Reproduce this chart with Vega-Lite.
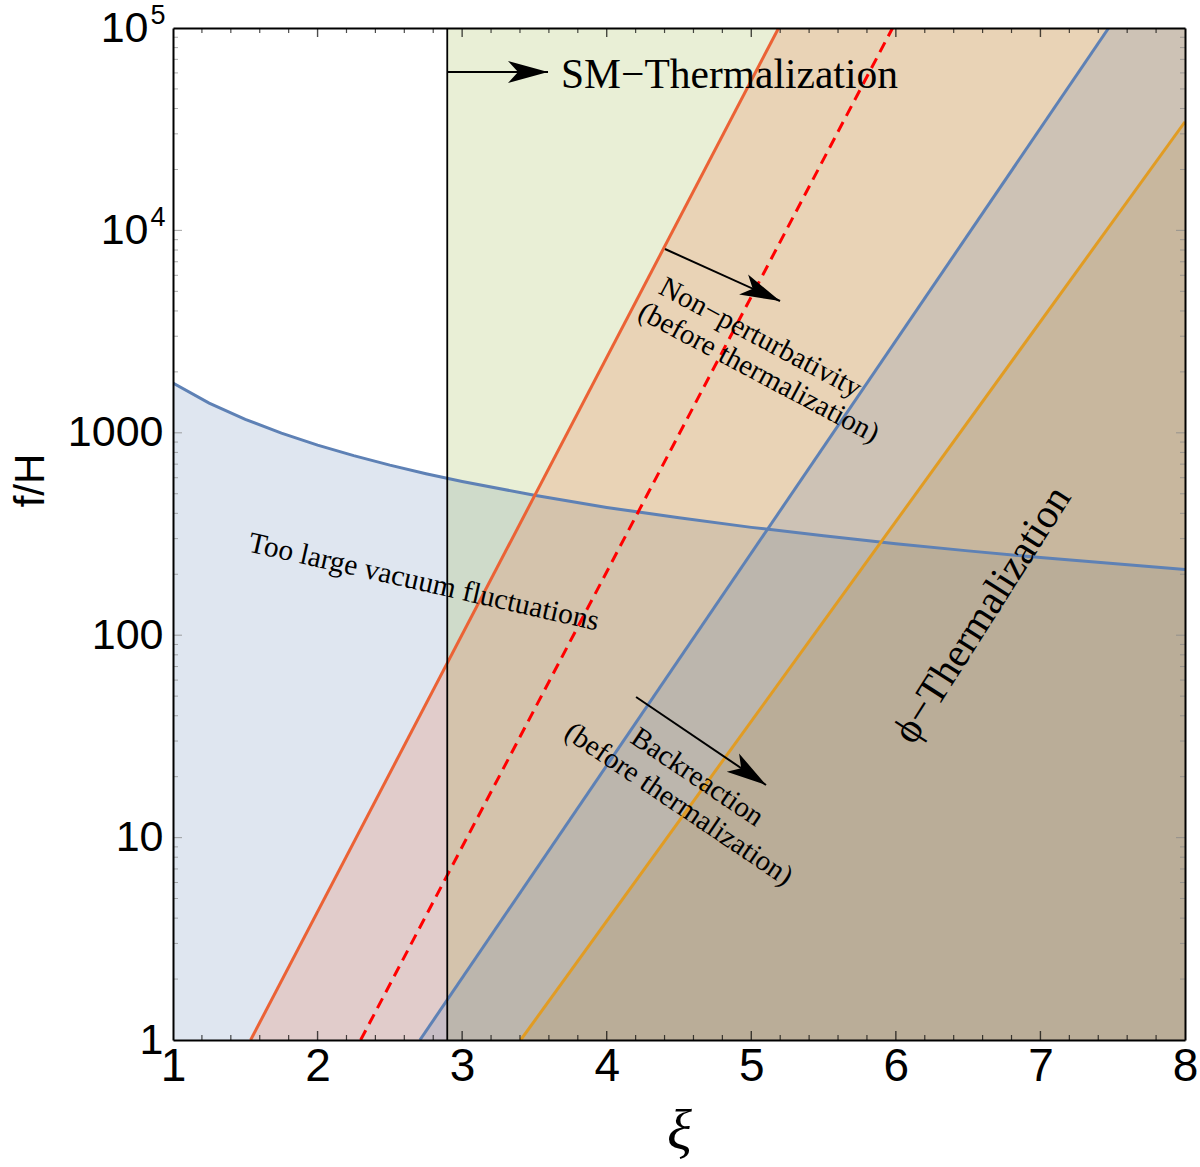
{
  "$schema": "https://vega.github.io/schema/vega-lite/v6.json",
  "width": 1012,
  "height": 1012,
  "autosize": {"type": "none"},
  "padding": {"left": 173, "top": 28, "right": 15, "bottom": 127},
  "background": "white",
  "config": {"view": {"stroke": null}},
  "datasets": {
    "curve": [
      {"xi": 1, "f": 1762}, {"xi": 1.25, "f": 1403}, {"xi": 1.5, "f": 1165}, {"xi": 1.75, "f": 996},
      {"xi": 2, "f": 869}, {"xi": 2.25, "f": 771}, {"xi": 2.5, "f": 692}, {"xi": 2.75, "f": 628},
      {"xi": 3, "f": 575}, {"xi": 3.5, "f": 491}, {"xi": 4, "f": 428}, {"xi": 4.5, "f": 380},
      {"xi": 5, "f": 341}, {"xi": 5.5, "f": 310}, {"xi": 6, "f": 283}, {"xi": 6.5, "f": 261},
      {"xi": 7, "f": 242}, {"xi": 7.5, "f": 226}, {"xi": 8, "f": 211}
    ],
    "lines": [
      {"id": "npert", "xi": 1.537, "f": 1}, {"id": "npert", "xi": 5.189, "f": 100000},
      {"id": "npert_area", "xi": 1.537, "f": 1}, {"id": "npert_area", "xi": 5.189, "f": 100000}, {"id": "npert_area", "xi": 8, "f": 100000},
      {"id": "dash", "xi": 2.298, "f": 1}, {"id": "dash", "xi": 5.977, "f": 100000},
      {"id": "back", "xi": 2.708, "f": 1}, {"id": "back", "xi": 7.472, "f": 100000},
      {"id": "back_area", "xi": 2.708, "f": 1}, {"id": "back_area", "xi": 7.472, "f": 100000}, {"id": "back_area", "xi": 8, "f": 100000},
      {"id": "orng", "xi": 3.405, "f": 1}, {"id": "orng", "xi": 8, "f": 34400},
      {"id": "sm", "xi": 2.897, "f": 1}, {"id": "sm", "xi": 2.897, "f": 100000}
    ],
    "boxes": [{"xi": 2.897, "xi2": 8, "f": 1, "f2": 100000}],
    "arrows": [
      {"id": "sm", "xi": 2.897, "f": 60620, "xi2": 3.594, "f2": 60620},
      {"id": "np", "xi": 4.403, "f": 8091, "xi2": 5.199, "f2": 4480},
      {"id": "br", "xi": 4.203, "f": 49.5, "xi2": 5.102, "f2": 18.2}
    ],
    "labels": [
      {"id": "sm", "text": "SM−Thermalization", "xi": 3.684, "f": 50540},
      {"id": "np1", "text": "Non−perturbativity", "xi": 5.064, "f": 2957},
      {"id": "np2", "text": "(before thermalization)", "xi": 5.053, "f": 1986},
      {"id": "br1", "text": "Backreaction", "xi": 4.628, "f": 19.93},
      {"id": "br2", "text": "(before thermalization)", "xi": 4.5, "f": 14.66},
      {"id": "vac", "text": "Too large vacuum fluctuations", "xi": 2.735, "f": 183},
      {"id": "phi", "text": "ϕ−Thermalization", "xi": 6.6, "f": 125.8}
    ],
    "xmaj": [{"xi": 2}, {"xi": 3}, {"xi": 4}, {"xi": 5}, {"xi": 6}, {"xi": 7}],
    "xmin": [
      {"xi": 1.2}, {"xi": 1.4}, {"xi": 1.6}, {"xi": 1.8}, {"xi": 2.2}, {"xi": 2.4}, {"xi": 2.6}, {"xi": 2.8},
      {"xi": 3.2}, {"xi": 3.4}, {"xi": 3.6}, {"xi": 3.8}, {"xi": 4.2}, {"xi": 4.4}, {"xi": 4.6}, {"xi": 4.8},
      {"xi": 5.2}, {"xi": 5.4}, {"xi": 5.6}, {"xi": 5.8}, {"xi": 6.2}, {"xi": 6.4}, {"xi": 6.6}, {"xi": 6.8},
      {"xi": 7.2}, {"xi": 7.4}, {"xi": 7.6}, {"xi": 7.8}
    ],
    "ymaj": [{"f": 10}, {"f": 100}, {"f": 1000}, {"f": 10000}],
    "ymin": [
      {"f": 2}, {"f": 3}, {"f": 4}, {"f": 5}, {"f": 6}, {"f": 7}, {"f": 8}, {"f": 9},
      {"f": 20}, {"f": 30}, {"f": 40}, {"f": 50}, {"f": 60}, {"f": 70}, {"f": 80}, {"f": 90},
      {"f": 200}, {"f": 300}, {"f": 400}, {"f": 500}, {"f": 600}, {"f": 700}, {"f": 800}, {"f": 900},
      {"f": 2000}, {"f": 3000}, {"f": 4000}, {"f": 5000}, {"f": 6000}, {"f": 7000}, {"f": 8000}, {"f": 9000},
      {"f": 20000}, {"f": 30000}, {"f": 40000}, {"f": 50000}, {"f": 60000}, {"f": 70000}, {"f": 80000}, {"f": 90000}
    ]
  },
  "resolve": {"axis": {"x": "independent", "y": "independent"}},
  "layer": [
    {
      "data": {"name": "curve"},
      "mark": {"type": "area", "color": "#5E81B5", "fillOpacity": 0.2, "clip": true},
      "encoding": {
        "x": {
          "field": "xi", "type": "quantitative",
          "scale": {"domain": [1, 8], "nice": false, "zero": false},
          "axis": {
            "orient": "bottom", "values": [1, 2, 3, 4, 5, 6, 7, 8], "format": "d",
            "labelFont": "Liberation Sans", "labelFontSize": 46, "labelColor": "black",
            "labelFlush": false, "labelPadding": 4, "labelOverlap": false,
            "ticks": false, "domainColor": "black", "domainWidth": 2,
            "grid": false, "zindex": 2,
            "title": "ξ", "titleFont": "Liberation Serif", "titleFontStyle": "italic", "titleFontWeight": "normal",
            "titleFontSize": 58, "titleColor": "black", "titleBaseline": "alphabetic", "titleY": 108
          }
        },
        "y": {
          "field": "f", "type": "quantitative",
          "scale": {"type": "log", "domain": [1, 100000], "nice": false},
          "axis": {
            "orient": "left", "values": [1, 10, 100, 1000], "format": "d",
            "labelFont": "Liberation Sans", "labelFontSize": 43, "labelColor": "black",
            "labelFlush": false, "labelPadding": 10, "labelOverlap": false,
            "ticks": false, "domainColor": "black", "domainWidth": 2,
            "grid": false, "zindex": 2,
            "title": "f/H", "titleFont": "Liberation Sans", "titleFontWeight": "normal", "titleFontSize": 42,
            "titleColor": "black", "titleAngle": -90, "titleAlign": "center", "titleBaseline": "middle",
            "titleX": -143, "titleY": 452
          }
        },
        "y2": {"datum": 1}
      }
    },
    {
      "data": {"name": "boxes"},
      "mark": {"type": "rect", "color": "#8FB032", "fillOpacity": 0.2, "clip": true},
      "encoding": {
        "x": {
          "field": "xi", "type": "quantitative",
          "axis": {"orient": "top", "labels": false, "ticks": false, "title": null, "values": [1, 8],
                   "domainColor": "black", "domainWidth": 2, "grid": false, "zindex": 2}
        },
        "x2": {"field": "xi2"},
        "y": {
          "field": "f", "type": "quantitative",
          "axis": {"orient": "right", "labels": false, "ticks": false, "title": null, "values": [1, 100000],
                   "domainColor": "black", "domainWidth": 2, "grid": false, "zindex": 2}
        },
        "y2": {"field": "f2"}
      }
    },
    {
      "data": {"name": "lines"},
      "transform": [{"filter": "datum.id == 'npert_area'"}],
      "mark": {"type": "area", "color": "#EB6235", "fillOpacity": 0.2, "clip": true},
      "encoding": {
        "x": {"field": "xi", "type": "quantitative", "axis": null},
        "y": {
          "field": "f", "type": "quantitative",
          "axis": {"orient": "left", "values": [10000, 100000], "labelExpr": "'10'",
                   "labelFont": "Liberation Sans", "labelFontSize": 43, "labelColor": "black",
                   "labelFlush": false, "labelPadding": 25, "labelOverlap": false,
                   "ticks": false, "domain": false, "title": null, "grid": false, "zindex": 2}
        },
        "y2": {"datum": 1}
      }
    },
    {
      "data": {"name": "lines"},
      "transform": [{"filter": "datum.id == 'back_area'"}],
      "mark": {"type": "area", "color": "#5E81B5", "fillOpacity": 0.2, "clip": true},
      "encoding": {
        "x": {"field": "xi", "type": "quantitative", "axis": null},
        "y": {
          "field": "f", "type": "quantitative",
          "axis": {"orient": "left", "values": [10000, 100000],
                   "labelExpr": "datum.value == 100000 ? '5' : '4'",
                   "labelFont": "Liberation Sans", "labelFontSize": 27, "labelColor": "black",
                   "labelAlign": "left", "labelBaseline": "middle",
                   "labelFlush": false, "labelPadding": 23, "labelOffset": -13, "labelOverlap": false,
                   "ticks": false, "domain": false, "title": null, "grid": false, "zindex": 2}
        },
        "y2": {"datum": 1}
      }
    },
    {
      "data": {"name": "lines"},
      "transform": [{"filter": "datum.id == 'orng'"}],
      "mark": {"type": "area", "color": "#B58E48", "fillOpacity": 0.2, "clip": true},
      "encoding": {
        "x": {"field": "xi", "type": "quantitative", "axis": null},
        "y": {"field": "f", "type": "quantitative", "axis": null},
        "y2": {"datum": 1}
      }
    },
    {
      "data": {"name": "curve"},
      "mark": {"type": "line", "color": "#5E81B5", "strokeWidth": 3, "clip": true},
      "encoding": {
        "x": {"field": "xi", "type": "quantitative", "axis": null},
        "y": {"field": "f", "type": "quantitative", "axis": null}
      }
    },
    {
      "data": {"name": "lines"},
      "transform": [{"filter": "datum.id == 'npert'"}],
      "mark": {"type": "line", "color": "#EB6235", "strokeWidth": 3, "clip": true},
      "encoding": {
        "x": {"field": "xi", "type": "quantitative", "axis": null},
        "y": {"field": "f", "type": "quantitative", "axis": null}
      }
    },
    {
      "data": {"name": "lines"},
      "transform": [{"filter": "datum.id == 'dash'"}],
      "mark": {"type": "line", "color": "#FF0000", "strokeWidth": 3, "strokeDash": [11, 7], "clip": true},
      "encoding": {
        "x": {"field": "xi", "type": "quantitative", "axis": null},
        "y": {"field": "f", "type": "quantitative", "axis": null}
      }
    },
    {
      "data": {"name": "lines"},
      "transform": [{"filter": "datum.id == 'back'"}],
      "mark": {"type": "line", "color": "#5E81B5", "strokeWidth": 3, "clip": true},
      "encoding": {
        "x": {"field": "xi", "type": "quantitative", "axis": null},
        "y": {"field": "f", "type": "quantitative", "axis": null}
      }
    },
    {
      "data": {"name": "lines"},
      "transform": [{"filter": "datum.id == 'orng'"}],
      "mark": {"type": "line", "color": "#E19C24", "strokeWidth": 3, "clip": true},
      "encoding": {
        "x": {"field": "xi", "type": "quantitative", "axis": null},
        "y": {"field": "f", "type": "quantitative", "axis": null}
      }
    },
    {
      "data": {"name": "lines"},
      "transform": [{"filter": "datum.id == 'sm'"}],
      "mark": {"type": "line", "color": "black", "strokeWidth": 1.8, "clip": true},
      "encoding": {
        "x": {"field": "xi", "type": "quantitative", "axis": null},
        "y": {"field": "f", "type": "quantitative", "axis": null}
      }
    },
    {
      "data": {"name": "xmaj"},
      "mark": {"type": "tick", "color": "black", "size": 9, "thickness": 1.4, "orient": "vertical", "yOffset": -4.5},
      "encoding": {
        "x": {"field": "xi", "type": "quantitative", "axis": null},
        "y": {"datum": 1, "type": "quantitative", "axis": null}
      }
    },
    {
      "data": {"name": "xmaj"},
      "mark": {"type": "tick", "color": "black", "size": 9, "thickness": 1.4, "orient": "vertical", "yOffset": 4.5},
      "encoding": {
        "x": {"field": "xi", "type": "quantitative", "axis": null},
        "y": {"datum": 100000, "type": "quantitative", "axis": null}
      }
    },
    {
      "data": {"name": "xmin"},
      "mark": {"type": "tick", "color": "black", "size": 5, "thickness": 1.2, "orient": "vertical", "yOffset": -2.5},
      "encoding": {
        "x": {"field": "xi", "type": "quantitative", "axis": null},
        "y": {"datum": 1, "type": "quantitative", "axis": null}
      }
    },
    {
      "data": {"name": "xmin"},
      "mark": {"type": "tick", "color": "black", "size": 5, "thickness": 1.2, "orient": "vertical", "yOffset": 2.5},
      "encoding": {
        "x": {"field": "xi", "type": "quantitative", "axis": null},
        "y": {"datum": 100000, "type": "quantitative", "axis": null}
      }
    },
    {
      "data": {"name": "ymaj"},
      "mark": {"type": "tick", "color": "#888", "size": 9, "thickness": 1.1, "orient": "horizontal", "xOffset": 4.5},
      "encoding": {
        "x": {"datum": 1, "type": "quantitative", "axis": null},
        "y": {"field": "f", "type": "quantitative", "axis": null}
      }
    },
    {
      "data": {"name": "ymaj"},
      "mark": {"type": "tick", "color": "#888", "size": 9, "thickness": 1.1, "orient": "horizontal", "xOffset": -4.5},
      "encoding": {
        "x": {"datum": 8, "type": "quantitative", "axis": null},
        "y": {"field": "f", "type": "quantitative", "axis": null}
      }
    },
    {
      "data": {"name": "ymin"},
      "mark": {"type": "tick", "color": "#888", "size": 5, "thickness": 1, "orient": "horizontal", "xOffset": 2.5},
      "encoding": {
        "x": {"datum": 1, "type": "quantitative", "axis": null},
        "y": {"field": "f", "type": "quantitative", "axis": null}
      }
    },
    {
      "data": {"name": "ymin"},
      "mark": {"type": "tick", "color": "#888", "size": 5, "thickness": 1, "orient": "horizontal", "xOffset": -2.5},
      "encoding": {
        "x": {"datum": 8, "type": "quantitative", "axis": null},
        "y": {"field": "f", "type": "quantitative", "axis": null}
      }
    },
    {
      "data": {"name": "arrows"},
      "mark": {"type": "rule", "color": "black", "strokeWidth": 2},
      "encoding": {
        "x": {"field": "xi", "type": "quantitative", "axis": null},
        "y": {"field": "f", "type": "quantitative", "axis": null},
        "x2": {"field": "xi2"},
        "y2": {"field": "f2"}
      }
    },
    {
      "data": {"name": "arrows"},
      "transform": [{"filter": "datum.id == 'sm'"}],
      "mark": {"type": "point", "shape": "M0,0 L-2,-0.55 L-1.5,0 L-2,0.55 Z", "size": 1600, "filled": true, "color": "black", "opacity": 1, "angle": 0},
      "encoding": {
        "x": {"field": "xi2", "type": "quantitative", "axis": null},
        "y": {"field": "f2", "type": "quantitative", "axis": null}
      }
    },
    {
      "data": {"name": "arrows"},
      "transform": [{"filter": "datum.id == 'np'"}],
      "mark": {"type": "point", "shape": "M0,0 L-2,-0.55 L-1.5,0 L-2,0.55 Z", "size": 1600, "filled": true, "color": "black", "opacity": 1, "angle": 24.3},
      "encoding": {
        "x": {"field": "xi2", "type": "quantitative", "axis": null},
        "y": {"field": "f2", "type": "quantitative", "axis": null}
      }
    },
    {
      "data": {"name": "arrows"},
      "transform": [{"filter": "datum.id == 'br'"}],
      "mark": {"type": "point", "shape": "M0,0 L-2,-0.55 L-1.5,0 L-2,0.55 Z", "size": 1600, "filled": true, "color": "black", "opacity": 1, "angle": 34.1},
      "encoding": {
        "x": {"field": "xi2", "type": "quantitative", "axis": null},
        "y": {"field": "f2", "type": "quantitative", "axis": null}
      }
    },
    {
      "data": {"name": "labels"},
      "transform": [{"filter": "datum.id == 'sm'"}],
      "mark": {"type": "text", "font": "Liberation Serif", "fontSize": 41.5, "color": "black", "align": "left", "baseline": "alphabetic"},
      "encoding": {
        "x": {"field": "xi", "type": "quantitative", "axis": null},
        "y": {"field": "f", "type": "quantitative", "axis": null},
        "text": {"field": "text"}
      }
    },
    {
      "data": {"name": "labels"},
      "transform": [{"filter": "datum.id == 'np1' || datum.id == 'np2'"}],
      "mark": {"type": "text", "font": "Liberation Serif", "fontSize": 29, "color": "black", "align": "center", "baseline": "middle", "angle": 28},
      "encoding": {
        "x": {"field": "xi", "type": "quantitative", "axis": null},
        "y": {"field": "f", "type": "quantitative", "axis": null},
        "text": {"field": "text"}
      }
    },
    {
      "data": {"name": "labels"},
      "transform": [{"filter": "datum.id == 'br1' || datum.id == 'br2'"}],
      "mark": {"type": "text", "font": "Liberation Serif", "fontSize": 29, "color": "black", "align": "center", "baseline": "middle", "angle": 34},
      "encoding": {
        "x": {"field": "xi", "type": "quantitative", "axis": null},
        "y": {"field": "f", "type": "quantitative", "axis": null},
        "text": {"field": "text"}
      }
    },
    {
      "data": {"name": "labels"},
      "transform": [{"filter": "datum.id == 'vac'"}],
      "mark": {"type": "text", "font": "Liberation Serif", "fontSize": 29.5, "color": "black", "align": "center", "baseline": "middle", "angle": 12.8},
      "encoding": {
        "x": {"field": "xi", "type": "quantitative", "axis": null},
        "y": {"field": "f", "type": "quantitative", "axis": null},
        "text": {"field": "text"}
      }
    },
    {
      "data": {"name": "labels"},
      "transform": [{"filter": "datum.id == 'phi'"}],
      "mark": {"type": "text", "font": "Liberation Serif", "fontSize": 41, "color": "black", "align": "center", "baseline": "middle", "angle": -57.5},
      "encoding": {
        "x": {"field": "xi", "type": "quantitative", "axis": null},
        "y": {"field": "f", "type": "quantitative", "axis": null},
        "text": {"field": "text"}
      }
    }
  ]
}
